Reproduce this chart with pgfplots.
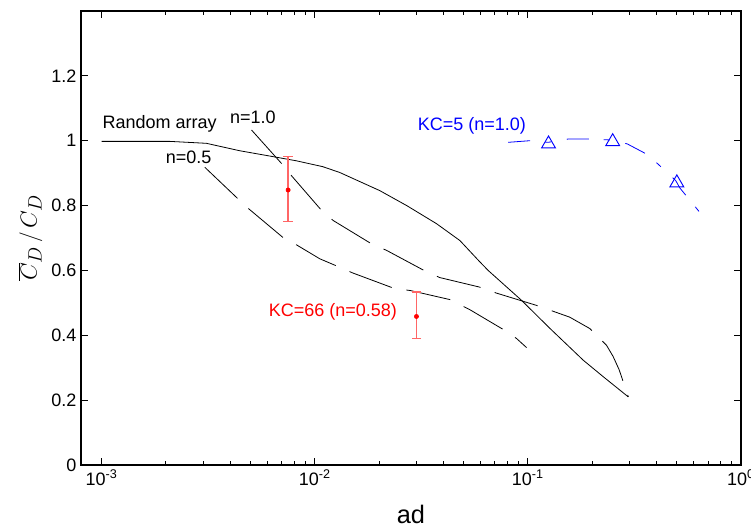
\documentclass[border=0pt]{standalone}
\usepackage{pgfplots}
\pgfplotsset{compat=1.18}
\usepackage{fontspec}
\setmainfont{Liberation Sans}

\begin{document}
\begin{tikzpicture}
\begin{axis}[
    at={(0,0)}, anchor=south west,
    scale only axis,
    width=495pt, height=340.5pt,
    xmode=log,
    xmin=0.0008, xmax=1,
    ymin=0, ymax=1.4,
    xtick={0.001,0.01,0.1,1},
    xticklabels={10\textsuperscript{-3},10\textsuperscript{-2},10\textsuperscript{-1},10\textsuperscript{0}},
    ytick={0,0.2,0.4,0.6,0.8,1,1.2},
    yticklabels={0,0.2,0.4,0.6,0.8,1,1.2},
    tick label style={font=\fontsize{13.5}{16}\selectfont},
    major tick length=5pt, minor tick length=3pt,
    axis line style={line width=0.9pt},
    every tick/.style={black, line width=0.6pt},
    xlabel={ad},
    xlabel style={font=\fontsize{19}{22}\selectfont, at={(axis description cs:0.5,-0.11)}, anchor=center},
    ylabel={$\overline{C}_D\,/\,C_D$},
    ylabel style={font=\fontsize{19}{22}\selectfont, at={(axis description cs:-0.077,0.5)}, anchor=center},
    clip=false,
]
% Random array (solid)
\addplot[black, line width=0.6pt] coordinates {
    (0.001,0.998) (0.00208,0.998) (0.0031,0.992) (0.00445,0.969) (0.00636,0.951)
    (0.0082,0.938) (0.0109,0.92) (0.0131,0.902) (0.0202,0.846) (0.027,0.80)
    (0.0373,0.744) (0.048,0.692) (0.059,0.629) (0.0651,0.60) (0.0933,0.508)
    (0.127,0.421) (0.182,0.323) (0.226,0.272) (0.296,0.21)
};
% n=1.0 (dashed)
\addplot[black, line width=0.6pt, dash pattern=on 33.75pt off 11.25pt] coordinates {
    (0.00505,1.033) (0.00698,0.930) (0.00778,0.892) (0.0107,0.787) (0.0122,0.754)
    (0.01846,0.682) (0.0217,0.662) (0.0332,0.597) (0.0386,0.578) (0.059,0.549)
    (0.0713,0.530) (0.110,0.492) (0.157,0.456) (0.195,0.421) (0.234,0.369)
    (0.251,0.335) (0.268,0.294) (0.296,0.21)
};
% n=0.5 (dashed)
\addplot[black, line width=0.6pt, dash pattern=on 33.75pt off 11.25pt] coordinates {
    (0.00305,0.918) (0.00428,0.826) (0.0049,0.79) (0.00714,0.70) (0.0083,0.677)
    (0.01055,0.636) (0.01285,0.612) (0.0151,0.592) (0.0237,0.544) (0.0281,0.538)
    (0.0431,0.51) (0.0534,0.479) (0.0766,0.418) (0.0885,0.39) (0.0986,0.362)
};
% KC=5 (blue dash-dot)
\addplot[blue, line width=0.6pt, dash pattern=on 16.5pt off 11.25pt on 4.5pt off 12pt] coordinates {
    (0.0808,0.995) (0.102,1.0) (0.1245,0.995) (0.154,1.005) (0.197,1.005)
    (0.249,1.002) (0.293,0.99) (0.36,0.959) (0.408,0.928) (0.494,0.877)
    (0.517,0.854) (0.65,0.774)
};
\addplot[blue, only marks, mark=triangle, mark size=6pt, mark options={line width=0.7pt}] coordinates {
    (0.125,0.99) (0.25,0.997) (0.5,0.87)
};
% red error bars
\addplot[red, only marks, mark=*, mark size=1.6pt,
    error bars/.cd, y dir=both, y explicit,
    error bar style={red!60, line width=1.1pt},
    error mark options={rotate=90, red!60, mark size=3.5pt, line width=1.1pt}]
    coordinates {
    (0.0075,0.848) += (0,0.103) -= (0,0.097)
    (0.030,0.458) += (0,0.075) -= (0,0.068)
};
\node[font=\fontsize{13.5}{16}\selectfont] at (axis cs:0.00187,1.052) {Random array};
\node[font=\fontsize{13.5}{16}\selectfont] at (axis cs:0.00512,1.071) {n=1.0};
\node[font=\fontsize{13.5}{16}\selectfont] at (axis cs:0.00256,0.948) {n=0.5};
\node[font=\fontsize{13.5}{16}\selectfont, text=blue] at (axis cs:0.0546,1.046) {KC=5 (n=1.0)};
\node[font=\fontsize{13.5}{16}\selectfont, text=red] at (axis cs:0.01216,0.471) {KC=66 (n=0.58)};
\end{axis}
\pgfresetboundingbox
\path (-60.75pt,-49.5pt) rectangle (502.5pt,348.75pt);
\end{tikzpicture}
\end{document}
